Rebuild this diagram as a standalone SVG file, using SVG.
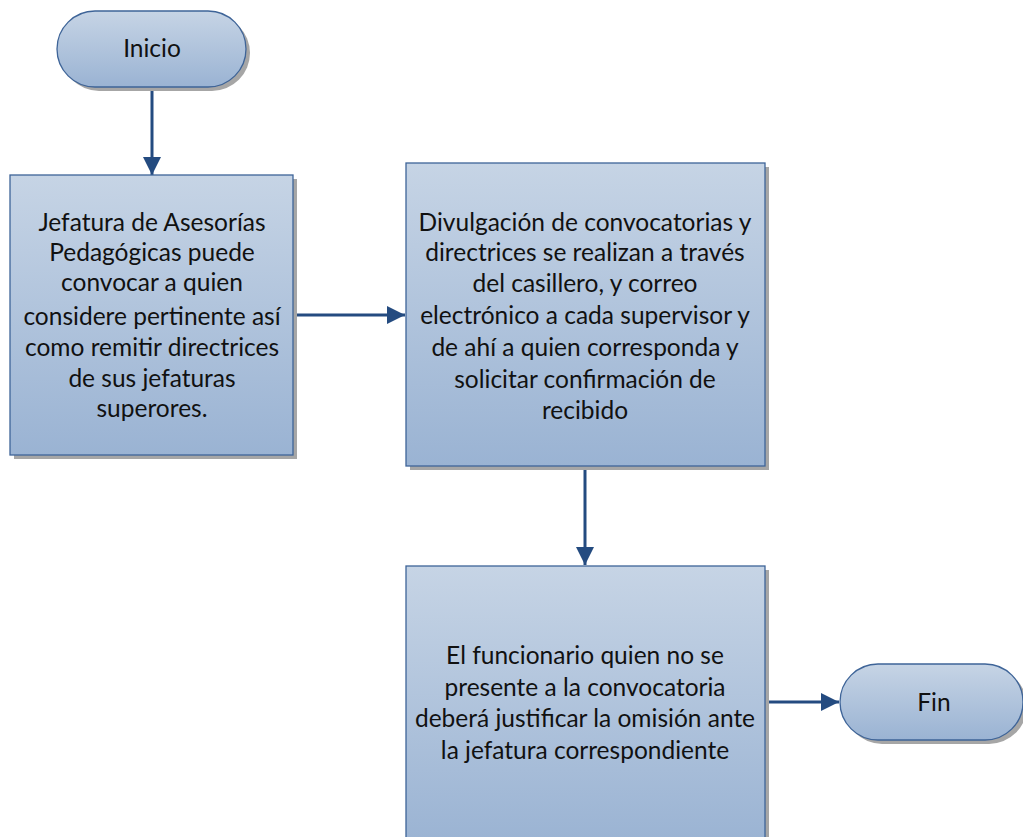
<svg xmlns="http://www.w3.org/2000/svg" width="1023" height="837" viewBox="0 0 1023 837">
<defs>
<linearGradient id="g" x1="0" y1="0" x2="0" y2="1">
<stop offset="0" stop-color="#c6d4e5"/>
<stop offset="1" stop-color="#9ab3d3"/>
</linearGradient>
<marker id="ah" viewBox="0 0 10 10" refX="10" refY="5" markerWidth="6" markerHeight="6" orient="auto" markerUnits="strokeWidth">
<path d="M0,0 L10,5 L0,10 z" fill="#244b80"/>
</marker>
</defs>
<style>
.shape{fill:url(#g);stroke:#3e6498;stroke-width:1.3}
.shadow{fill:#a6a6a6}
.t{font-family:Lato,"Open Sans",sans-serif;font-size:24.5px;fill:#111;text-anchor:middle}
.c{fill:none;stroke:#244b80;stroke-width:3;marker-end:url(#ah)}
</style>
<rect width="1023" height="837" fill="#fff"/>
<g id="connectors">
<line class="c" x1="152" y1="87" x2="152" y2="175"/>
<line class="c" x1="293" y1="315" x2="405" y2="315"/>
<line class="c" x1="585" y1="466" x2="585" y2="565"/>
<line class="c" x1="765" y1="702" x2="839" y2="702"/>
</g>
<g id="inicio">
<rect class="shadow" x="61" y="15" width="189" height="76" rx="38"/>
<rect class="shape" x="57" y="11" width="189" height="76" rx="38"/>
<text class="t" x="152" y="57">Inicio</text>
</g>
<g id="box1">
<rect class="shadow" x="14" y="179" width="283" height="280"/>
<rect class="shape" x="10" y="175" width="283" height="280"/>
<text class="t" x="152" y="231">Jefatura de Asesorías</text>
<text class="t" x="152" y="261">Pedagógicas puede</text>
<text class="t" x="152" y="291">convocar a quien</text>
<text class="t" x="152" y="325">considere pertinente así</text>
<text class="t" x="152" y="356">como remitir directrices</text>
<text class="t" x="152" y="387">de sus jefaturas</text>
<text class="t" x="152" y="417">superores.</text>
</g>
<g id="box2">
<rect class="shadow" x="410" y="167" width="359" height="303"/>
<rect class="shape" x="406" y="163" width="359" height="303"/>
<text class="t" x="585" y="231">Divulgación de convocatorias y</text>
<text class="t" x="585" y="261">directrices se realizan a través</text>
<text class="t" x="585" y="292">del casillero, y correo</text>
<text class="t" x="585" y="324">electrónico a cada supervisor y</text>
<text class="t" x="585" y="356">de ahí a quien corresponda y</text>
<text class="t" x="585" y="388">solicitar confirmación de</text>
<text class="t" x="585" y="419">recibido</text>
</g>
<g id="box3">
<rect class="shadow" x="410" y="570" width="359" height="280"/>
<rect class="shape" x="406" y="566" width="359" height="280"/>
<text class="t" x="585" y="664">El funcionario quien no se</text>
<text class="t" x="585" y="696">presente a la convocatoria</text>
<text class="t" x="585" y="727">deberá justificar la omisión ante</text>
<text class="t" x="585" y="759">la jefatura correspondiente</text>
</g>
<g id="fin">
<rect class="shadow" x="844" y="668" width="183" height="76" rx="38"/>
<rect class="shape" x="840" y="664" width="183" height="76" rx="38"/>
<text class="t" x="934" y="711">Fin</text>
</g>
</svg>
